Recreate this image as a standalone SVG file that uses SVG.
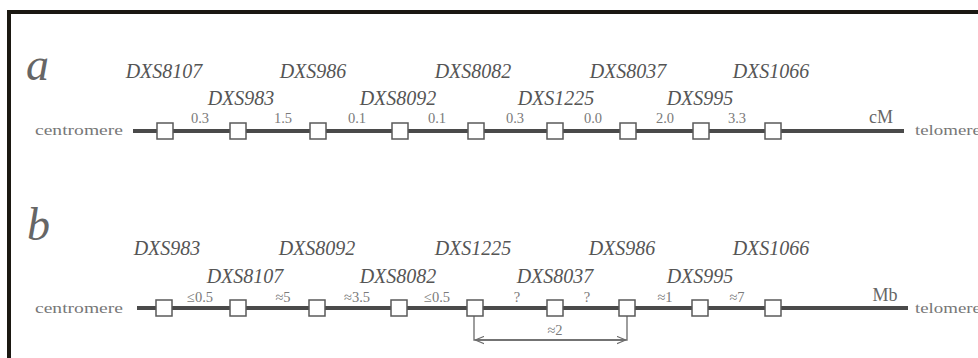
<svg xmlns="http://www.w3.org/2000/svg" width="978" height="358" viewBox="0 0 978 358">
<style>
.frame{fill:none;stroke:#1b1812;stroke-width:4}
.chrom{stroke:#4a4a4a;stroke-width:4;fill:none}
.box{fill:#fff;stroke:#5a5a5a;stroke-width:1.5}
.name{font-family:"Liberation Serif",serif;font-style:italic;font-size:20px;fill:#555;text-anchor:middle}
.dist{font-family:"Liberation Serif",serif;font-size:14.5px;fill:#7a7a7a;text-anchor:middle}
.end{font-family:"Liberation Serif",serif;font-size:15px;fill:#777}
.unit{font-family:"Liberation Serif",serif;font-size:18px;fill:#666;text-anchor:middle}
.panel{font-family:"Liberation Serif",serif;font-style:italic;font-size:46px;fill:#666}
.arrow{stroke:#6a6a6a;stroke-width:1.3;fill:none}
</style>
<defs>
<marker id="ah" viewBox="0 0 10 10" refX="9" refY="5" markerWidth="9" markerHeight="9" orient="auto-start-reverse" markerUnits="userSpaceOnUse">
<path d="M0,1 L10,5 L0,9" fill="none" stroke="#6a6a6a" stroke-width="1.3"/>
</marker>
</defs>
<rect x="0" y="0" width="978" height="358" fill="#fff"/>
<path class="frame" d="M9,358 V12 H978"/>

<g id="panel-a">
<text class="panel" x="26" y="80">a</text>
<text class="end" x="35" y="135" textLength="88" lengthAdjust="spacingAndGlyphs">centromere</text>
<text class="end" x="915" y="135" textLength="66" lengthAdjust="spacingAndGlyphs">telomere</text>
<text class="unit" x="881" y="123">cM</text>
</g>

<g id="connectors">
<line class="chrom" x1="133" y1="131" x2="904" y2="131"/>
<line class="chrom" x1="137" y1="308" x2="908" y2="308"/>
<path class="arrow" d="M474,316 V340 H627 V316"/>
<line class="arrow" x1="476" y1="340" x2="625" y2="340" marker-start="url(#ah)" marker-end="url(#ah)"/>
<text class="dist" x="555" y="335">≈2</text>
</g>

<g id="a-distances">
<text class="dist" x="200" y="123">0.3</text>
<text class="dist" x="283" y="123">1.5</text>
<text class="dist" x="357" y="123">0.1</text>
<text class="dist" x="437" y="123">0.1</text>
<text class="dist" x="515" y="123">0.3</text>
<text class="dist" x="593" y="123">0.0</text>
<text class="dist" x="665" y="123">2.0</text>
<text class="dist" x="737" y="123">3.3</text>
</g>

<g id="a-DXS8107"><rect class="box" x="157" y="123" width="16" height="16"/><text class="name" x="164" y="78">DXS8107</text></g>
<g id="a-DXS983"><rect class="box" x="230" y="123" width="16" height="16"/><text class="name" x="241" y="105">DXS983</text></g>
<g id="a-DXS986"><rect class="box" x="310" y="123" width="16" height="16"/><text class="name" x="313" y="78">DXS986</text></g>
<g id="a-DXS8092"><rect class="box" x="392" y="123" width="16" height="16"/><text class="name" x="398" y="105">DXS8092</text></g>
<g id="a-DXS8082"><rect class="box" x="468" y="123" width="16" height="16"/><text class="name" x="473" y="78">DXS8082</text></g>
<g id="a-DXS1225"><rect class="box" x="547" y="123" width="16" height="16"/><text class="name" x="556" y="105">DXS1225</text></g>
<g id="a-DXS8037"><rect class="box" x="620" y="123" width="16" height="16"/><text class="name" x="628" y="78">DXS8037</text></g>
<g id="a-DXS995"><rect class="box" x="693" y="123" width="16" height="16"/><text class="name" x="700" y="105">DXS995</text></g>
<g id="a-DXS1066"><rect class="box" x="765" y="123" width="16" height="16"/><text class="name" x="771" y="78">DXS1066</text></g>

<g id="panel-b">
<text class="panel" x="27" y="240">b</text>
<text class="end" x="35" y="313" textLength="88" lengthAdjust="spacingAndGlyphs">centromere</text>
<text class="end" x="915" y="313" textLength="66" lengthAdjust="spacingAndGlyphs">telomere</text>
<text class="unit" x="885" y="301">Mb</text>
</g>

<g id="b-distances">
<text class="dist" x="200" y="302">≤0.5</text>
<text class="dist" x="283" y="302">≈5</text>
<text class="dist" x="357" y="302">≈3.5</text>
<text class="dist" x="437" y="302">≤0.5</text>
<text class="dist" x="517" y="302">?</text>
<text class="dist" x="587" y="302">?</text>
<text class="dist" x="665" y="302">≈1</text>
<text class="dist" x="737" y="302">≈7</text>
</g>

<g id="b-DXS983"><rect class="box" x="156" y="300" width="16" height="16"/><text class="name" x="167" y="255">DXS983</text></g>
<g id="b-DXS8107"><rect class="box" x="230" y="300" width="16" height="16"/><text class="name" x="245" y="283">DXS8107</text></g>
<g id="b-DXS8092"><rect class="box" x="309" y="300" width="16" height="16"/><text class="name" x="317" y="255">DXS8092</text></g>
<g id="b-DXS8082"><rect class="box" x="391" y="300" width="16" height="16"/><text class="name" x="398" y="283">DXS8082</text></g>
<g id="b-DXS1225"><rect class="box" x="467" y="300" width="16" height="16"/><text class="name" x="473" y="255">DXS1225</text></g>
<g id="b-DXS8037"><rect class="box" x="547" y="300" width="16" height="16"/><text class="name" x="555" y="283">DXS8037</text></g>
<g id="b-DXS986"><rect class="box" x="619" y="300" width="16" height="16"/><text class="name" x="622" y="255">DXS986</text></g>
<g id="b-DXS995"><rect class="box" x="692" y="300" width="16" height="16"/><text class="name" x="700" y="283">DXS995</text></g>
<g id="b-DXS1066"><rect class="box" x="765" y="300" width="16" height="16"/><text class="name" x="771" y="255">DXS1066</text></g>
</svg>
